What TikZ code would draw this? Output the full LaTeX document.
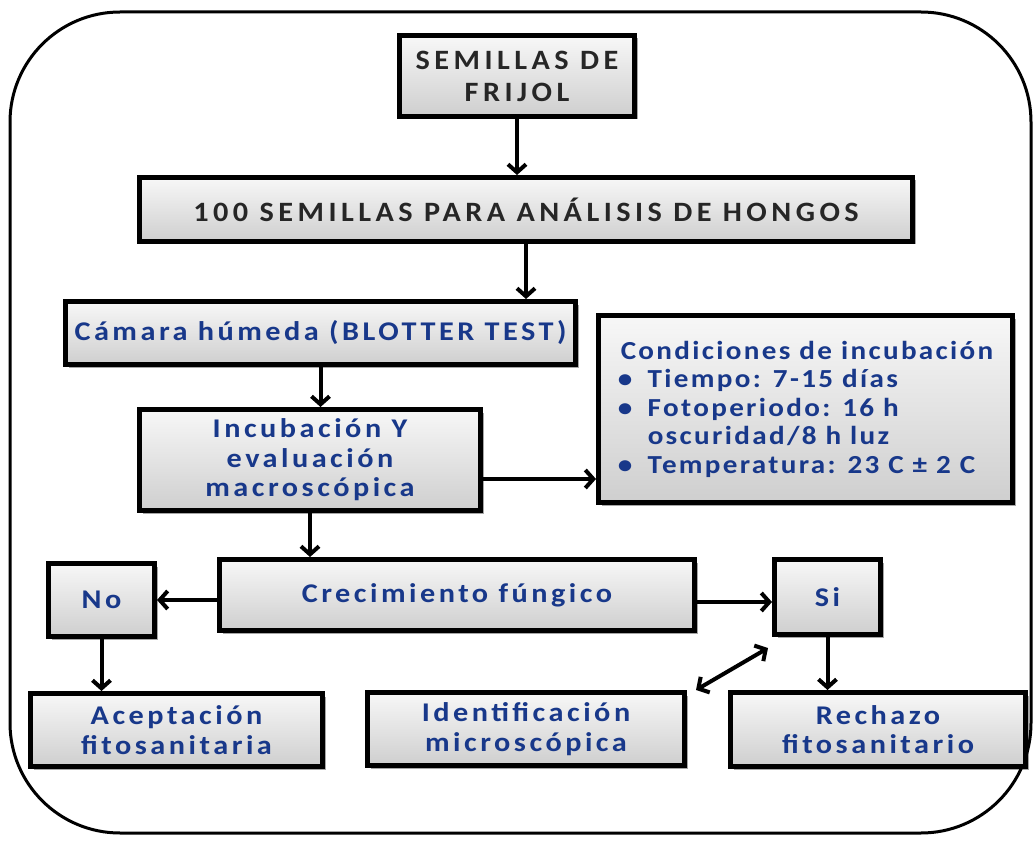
\documentclass[tikz,border=0pt]{standalone}
\usepackage{fontspec}
\setmainfont{Carlito}
\newfontfamily\blkfont{Carlito Bold}[LetterSpace=16,FakeStretch=1.08]
\newfontfamily\blufont{Carlito Bold}[LetterSpace=13,FakeStretch=1.12]
\newfontfamily\condfont{Carlito Bold}[LetterSpace=9,FakeStretch=1.12]
\usetikzlibrary{arrows.meta,shadows,calc}
\definecolor{tblue}{RGB}{24,56,138}
\tikzset{
  box/.style={draw=black, line width=5pt, top color=gray!6, bottom color=gray!38,
    drop shadow={shadow xshift=3pt,shadow yshift=-3pt,fill=black,opacity=0.35},
    inner sep=0pt, align=center},
  bt/.style={font=\blufont\fontsize{27}{29.5}\selectfont, text=tblue},
  ct/.style={font=\condfont\fontsize{26}{28.5}\selectfont, text=tblue},
  kt/.style={font=\blkfont\fontsize{28}{32}\selectfont, text=black!85},
  arr/.style={line width=4pt, -{Straight Barb[length=8pt,width=18pt]}},
  darr/.style={line width=4pt, {Straight Barb[length=8pt,width=18pt]}-{Straight Barb[length=8pt,width=18pt]}}
}
\begin{document}
\begin{tikzpicture}[x=1pt,y=-1pt]
\useasboundingbox (0,0) rectangle (1034,845);
\draw[line width=3pt, rounded corners=110pt] (10,12) rectangle (1031,833);

\node[box,kt,minimum width=235pt,minimum height=81pt] (b1) at (517,76) {SEMILLAS DE\\FRIJOL};
\node[box,kt,minimum width=773pt,minimum height=64pt] (b2) at (526,209.5) {100 SEMILLAS PARA ANÁLISIS DE HONGOS};
\node[box,bt,minimum width=510pt,minimum height=63pt] (b3) at (320.5,333) {Cámara húmeda (BLOTTER TEST)};
\node[box,bt,minimum width=341pt,minimum height=101pt] (b4) at (310,460) {Incubación Y\\evaluación\\macroscópica};
\node[box,ct,minimum width=414pt,minimum height=187pt,align=left] (b5) at (805.5,409)
 {\hspace{3pt}Condiciones de incubación\\
  \makebox[30pt][l]{•}Tiempo: 7-15 días\\
  \makebox[30pt][l]{•}Fotoperiodo: 16 h\\
  \makebox[30pt][l]{}oscuridad/8 h luz\\
  \makebox[30pt][l]{•}Temperatura: 23 C ± 2 C};
\node[box,bt,minimum width=475pt,minimum height=71pt] (b6) at (457,595) {Crecimiento fúngico};
\node[box,bt,minimum width=106pt,minimum height=73pt] (no) at (101.5,600) {No};
\node[box,bt,minimum width=292pt,minimum height=73pt] (acc) at (176.5,730) {Aceptación\\fitosanitaria};
\node[box,bt,minimum width=317pt,minimum height=73pt] (ident) at (526,729) {Identificación\\microscópica};
\node[box,bt,minimum width=106pt,minimum height=75pt] (si) at (827.5,597) {Si};
\node[box,bt,minimum width=295pt,minimum height=74pt] (rech) at (878,729.5) {Rechazo\\fitosanitario};

\coordinate (c4) at ($(b4.east)+(0,19)$);
\coordinate (csi) at ($(si.west)+(0,5)$);
\coordinate (d1) at ($(ident.north east)+(9,0)$);
\coordinate (d2) at ($(si.south west)+(-4,11)$);

\draw[arr] (b1.south) -- (b1.south |- b2.north);
\draw[arr] (b2.south) -- (b2.south |- b3.north);
\draw[arr] (b3.south) -- (b3.south |- b4.north);
\draw[arr] (c4) -- (c4 -| b5.west);
\draw[arr] (b4.south) -- (b4.south |- b6.north);
\draw[arr] (no.east -| b6.west) -- (no.east);
\draw[arr] (no.south) -- (no.south |- acc.north);
\draw[arr] (csi -| b6.east) -- (csi);
\draw[arr] (si.south) -- (si.south |- rech.north);
\draw[darr] (d1) -- (d2);
\end{tikzpicture}
\end{document}
